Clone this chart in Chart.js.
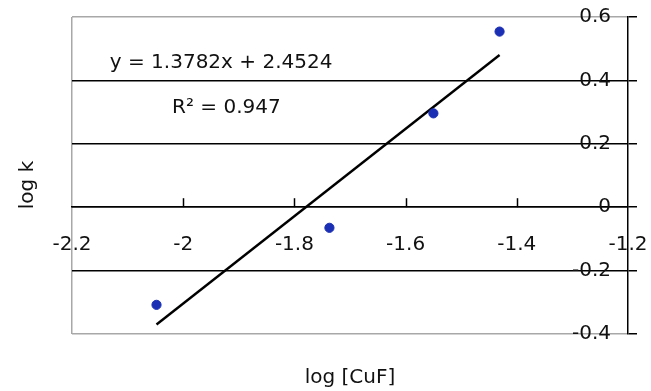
<!DOCTYPE html>
<html>
<head>
<meta charset="utf-8">
<script src="https://cdn.jsdelivr.net/npm/chart.js@4.4.1/dist/chart.umd.min.js"></script>
<style>
  html, body { margin: 0; padding: 0; background: #fff; }
  #wrap { width: 651px; height: 391px; }
</style>
</head>
<body>
<div id="wrap"><canvas id="chart"></canvas></div>
<script>
// measured points, log [CuF] vs log k
const logCuF = [-2.048, -1.737, -1.550, -1.431];
const logK = [-0.308, -0.065, 0.296, 0.554];

// trendline end points as drawn in the picture
const trendX = [-2.048, -1.431];
const trendY = [-0.370, 0.480];

const xTicks = [-2.2, -2, -1.8, -1.6, -1.4, -1.2];
const yTicks = [-0.4, -0.2, 0, 0.2, 0.4, 0.6];

const equationText = 'y = 1.3782x + 2.4524';
const r2Text = 'R\u00b2 = 0.947';

const FONT = '"DejaVu Sans", sans-serif';

const points = logCuF.map((x, i) => ({ x: x, y: logK[i] }));
const trend = trendX.map((x, i) => ({ x: x, y: trendY[i] }));

const fmt = v => String(Math.round(v * 10) / 10);

// the axes here sit inside the plot, so their marks and labels are drawn by hand
const extras = {
  id: 'extras',
  afterDraw(chart) {
    const { ctx, scales: { x, y }, chartArea } = chart;
    ctx.save();
    const y0 = y.getPixelForValue(0);
    ctx.strokeStyle = '#000';
    ctx.lineWidth = 1.5;
    xTicks.forEach(v => {
      if (v === -2.2 || v === -1.2) return;
      const px = Math.round(x.getPixelForValue(v)) + 0.5;
      ctx.beginPath();
      ctx.moveTo(px, y0);
      ctx.lineTo(px, y0 - 9);
      ctx.stroke();
    });

    ctx.fillStyle = '#111';
    ctx.font = '20px ' + FONT;

    // x tick labels under the zero line
    ctx.textAlign = 'center';
    ctx.textBaseline = 'middle';
    xTicks.forEach(v => {
      ctx.fillText(fmt(v), x.getPixelForValue(v), y0 + 38);
    });

    // y tick labels, right aligned just left of the right axis
    ctx.textAlign = 'right';
    yTicks.forEach(v => {
      ctx.fillText(fmt(v), chartArea.right - 17, y.getPixelForValue(v));
    });

    ctx.textBaseline = 'alphabetic';
    ctx.textAlign = 'left';
    ctx.fillText(equationText, x.getPixelForValue(-2.132), y.getPixelForValue(0.439));
    ctx.fillText(r2Text, x.getPixelForValue(-2.02), y.getPixelForValue(0.297));

    // axis titles
    ctx.textAlign = 'center';
    ctx.fillText('log [CuF]', (chartArea.left + chartArea.right) / 2, 383);
    ctx.translate(33, 185);
    ctx.rotate(-Math.PI / 2);
    ctx.fillText('log k', 0, 0);
    ctx.restore();
  }
};

new Chart(document.getElementById('chart'), {
  type: 'scatter',
  data: {
    datasets: [
      {
        label: 'log k',
        data: points,
        backgroundColor: '#1b2fb5',
        borderColor: '#1b2fb5',
        pointRadius: 4.6,
        pointHoverRadius: 4.6
      },
      {
        label: 'Linear fit',
        type: 'line',
        data: trend,
        borderColor: '#000',
        borderWidth: 2.4,
        pointRadius: 0,
        fill: false
      }
    ]
  },
  options: {
    responsive: true,
    maintainAspectRatio: false,
    animation: false,
    layout: { padding: { left: 72, top: 17, right: 14, bottom: 57 } },
    plugins: {
      legend: { display: false },
      tooltip: { enabled: false }
    },
    scales: {
      x: {
        type: 'linear',
        min: -2.2,
        max: -1.2,
        position: { y: 0 },
        afterBuildTicks: axis => { axis.ticks = xTicks.map(v => ({ value: v })); },
        ticks: { display: false },
        grid: {
          drawTicks: false,
          color: c => (c.tick && c.tick.value === -2.2 ? '#a8a8a8' : 'rgba(0,0,0,0)'),
          lineWidth: 1.5
        },
        border: { display: true, color: '#000', width: 1.5 }
      },
      y: {
        type: 'linear',
        min: -0.4,
        max: 0.6,
        position: 'right',
        afterBuildTicks: axis => { axis.ticks = yTicks.map(v => ({ value: v })); },
        ticks: { display: false },
        grid: {
          color: c => (c.tick && (c.tick.value === 0.6 || c.tick.value === -0.4) ? '#a8a8a8' : '#000'),
          tickColor: '#000',
          tickLength: 9,
          lineWidth: 1.5
        },
        border: { display: true, color: '#000', width: 1.5 }
      }
    }
  },
  plugins: [extras]
});
</script>
</body>
</html>
